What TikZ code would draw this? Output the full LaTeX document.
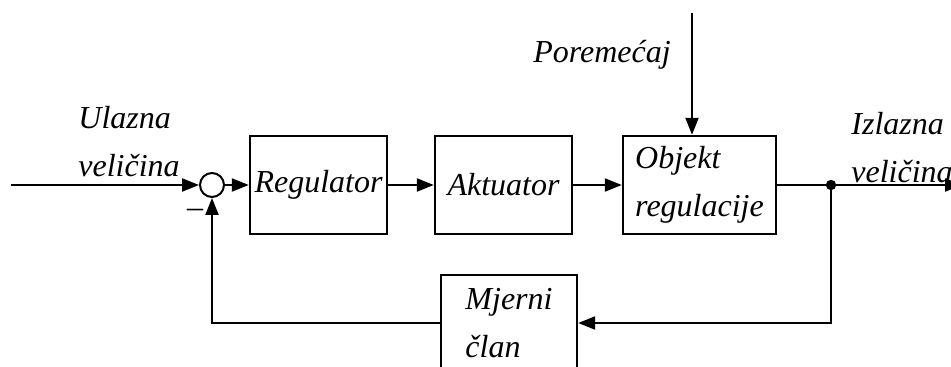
\documentclass[tikz,border=0pt]{standalone}
\usepackage{fontspec}
\setmainfont{Liberation Serif}
\usetikzlibrary{arrows.meta}
\tikzset{
    block/.style={
           rectangle,
           draw=black, line width=1.2pt,
           minimum height=49pt,
           inner sep=2pt,
           align=left,
           font=\fontsize{16}{24}\selectfont\itshape,
           },
    sum/.style={
           circle,
           draw=black, line width=1pt,
           minimum size=12pt,
           inner sep=0pt,
           },
    txt/.style={
           align=left,
           inner sep=0pt,
           font=\fontsize{16}{24}\selectfont\itshape,
           },
    wire/.style={line width=1.1pt},
}

\begin{document}
\begin{tikzpicture}[x=0.5pt, y=-0.5pt, >={Triangle[length=8.5pt,width=6.5pt]}]
    \useasboundingbox (0,0) rectangle (951,367);

    % Blocks of the forward path
    \node[block,
    minimum width=68.5pt,	% box width
    anchor=center] (reg) at (318.5,185)
    {Regulator};

    \node[block,
    minimum width=68.5pt,
    right of=reg,
    node distance=92.5pt,
    anchor=center] (akt)
    {Aktuator};

    \node[block,
    minimum width=76.5pt,
    right of=akt,
    node distance=98pt,
    anchor=center] (obj)
    {Objekt\\regulacije};

    % Block in the feedback path
    \node[block,
    minimum width=68pt,
    minimum height=48pt,
    anchor=center] (mjer) at (509,323)
    {Mjerni\\član};

    % comparator and free ends
    \node[sum] (sum) at (212,185) {};
    \coordinate (in) at (11,185);
    \coordinate (dist) at (692,13);
    \coordinate (branch) at (831,185);
    \coordinate (out) at (962,185);

    % texts beside the signals
    \node[txt, anchor=west] (ulaz) at (78,142) {Ulazna\\veličina};
    \node[txt, anchor=west] (izlaz) at (851,148) {Izlazna\\veličina};
    \node[txt] (por) at (602,55) {Poremećaj};
    \node[txt] (minus) at (195,213) {--};

    % draw the paths
    \path[wire]
        (in)   edge[->] (sum)
        (sum)  edge[->] (reg)
        (reg)  edge[->] (akt)
        (akt)  edge[->] (obj)
        (dist) edge[->] (dist |- obj.north)
        (obj)  edge (branch)
        (branch) edge[->] (out);

    \draw[wire,->] (branch) |- (mjer);
    \draw[wire,->] (mjer) -| (sum);
    \fill (branch) circle (2.6pt);
\end{tikzpicture}
\end{document}
